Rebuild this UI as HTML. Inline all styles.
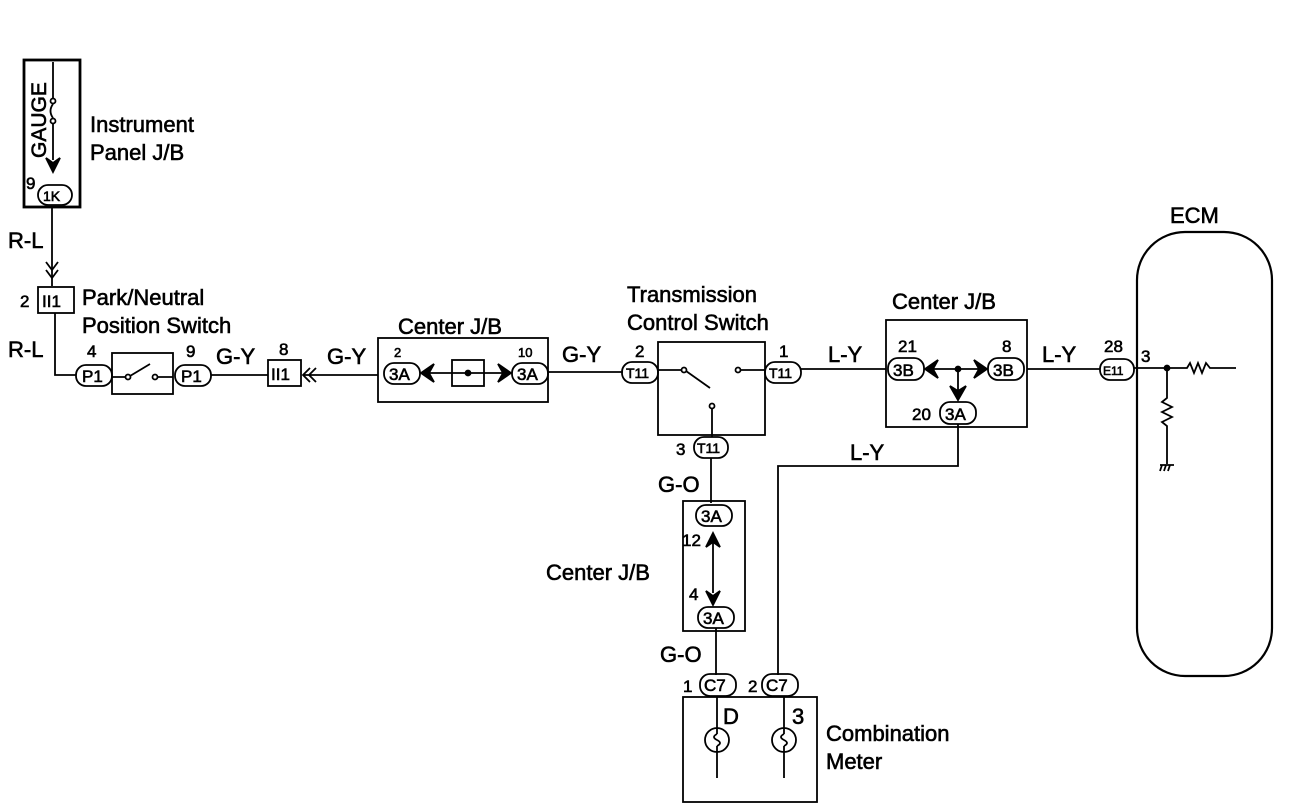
<!DOCTYPE html>
<html><head><meta charset="utf-8"><style>
html,body{margin:0;padding:0;background:#fff;}
svg{display:block;}
text{font-family:"Liberation Sans",sans-serif;fill:#000;stroke:#000;stroke-width:0.6;}
.l{font-size:22px;}
.s{font-size:17px;}
.o{font-size:14px;}
</style></head><body>
<svg width="1296" height="810" viewBox="0 0 1296 810" xmlns="http://www.w3.org/2000/svg" fill="none" stroke="#000" stroke-width="1.8">
<rect x="24" y="60" width="56" height="147" stroke-width="2.8"/>
<text x="46" y="158" class="l" transform="rotate(-90 46 158)" style="font-size:21px">GAUGE</text>
<path d="M53 62 V98 M53 104 Q48 111 53 118 M53 124 V160"/>
<circle cx="53" cy="101" r="2.5"/><circle cx="53" cy="121" r="2.5"/>
<path d="M46 158 L53 172 L60 158 L53 163 Z" fill="#000"/>
<rect x="38" y="185" width="34" height="20" rx="10"/>
<text x="43" y="201" class="o">1K</text>
<text x="26" y="189" class="s">9</text>
<text x="90" y="132" class="l">Instrument</text>
<text x="90" y="160" class="l">Panel J/B</text>
<path d="M52 207 V286"/>
<text x="8" y="248" class="l">R-L</text>
<path d="M46 262 L52 270 L58 262 M46 270 L52 278 L58 270"/>
<rect x="38" y="287" width="36" height="26"/>
<text x="42" y="307" class="s">II1</text>
<text x="20" y="307" class="s">2</text>
<text x="82" y="305" class="l">Park/Neutral</text>
<text x="82" y="333" class="l">Position Switch</text>
<path d="M55 313 V375 H76"/>
<text x="8" y="357" class="l">R-L</text>
<rect x="76" y="365" width="36" height="21" rx="10"/>
<text x="82" y="382" class="s">P1</text>
<text x="87" y="357" class="s">4</text>
<rect x="112" y="353" width="61" height="41"/>
<circle cx="128" cy="377" r="2.5"/><circle cx="155" cy="377" r="2.5"/>
<path d="M112 377 H125 M130 376 L150 364 M158 377 H173"/>
<rect x="175" y="365" width="36" height="21" rx="10"/>
<text x="181" y="382" class="s">P1</text>
<text x="186" y="357" class="s">9</text>
<path d="M211 375 H268"/>
<text x="216" y="364" class="l">G-Y</text>
<rect x="268" y="360" width="33" height="26"/>
<text x="271" y="380" class="s">II1</text>
<text x="279" y="355" class="s">8</text>
<path d="M310 368 L303 375 L310 382 M316 368 L309 375 L316 382 M303 375 H378"/>
<text x="327" y="364" class="l">G-Y</text>
<rect x="378" y="338" width="170" height="64"/>
<text x="398" y="334" class="l">Center J/B</text>
<rect x="384" y="363" width="36" height="21" rx="10"/>
<text x="389" y="380" class="s">3A</text>
<rect x="512" y="363" width="36" height="21" rx="10"/>
<text x="517" y="380" class="s">3A</text>
<text x="394" y="357" style="font-size:13px">2</text>
<text x="518" y="357" style="font-size:13px">10</text>
<path d="M421 373 L434 364 L429 373 L434 382 Z M511 373 L498 364 L503 373 L498 382 Z" fill="#000"/>
<rect x="452" y="360" width="32" height="26"/>
<path d="M428 373 H504"/><circle cx="468" cy="373" r="2.5" fill="#000"/>
<path d="M548 372 H623"/>
<text x="562" y="362" class="l">G-Y</text>
<text x="627" y="302" class="l">Transmission</text>
<text x="627" y="330" class="l">Control Switch</text>
<rect x="622" y="362" width="36" height="21" rx="10"/>
<text x="626" y="378" class="o">T11</text>
<text x="635" y="357" class="s">2</text>
<rect x="658" y="342" width="107" height="93"/>
<circle cx="684" cy="370" r="2.5"/><circle cx="738" cy="370" r="2.5"/><circle cx="712" cy="406" r="2.5"/>
<path d="M658 370 H681 M686 371 L710 388 M741 370 H765 M712 409 V437"/>
<rect x="765" y="362" width="36" height="21" rx="10"/>
<text x="769" y="378" class="o">T11</text>
<text x="779" y="357" class="s">1</text>
<rect x="694" y="437" width="34" height="21" rx="10"/>
<text x="697" y="453" class="o">T11</text>
<text x="676" y="455" class="s">3</text>
<path d="M801 369 H886"/>
<text x="828" y="362" class="l">L-Y</text>
<rect x="886" y="320" width="141" height="107"/>
<text x="892" y="309" class="l">Center J/B</text>
<rect x="888" y="358" width="36" height="22" rx="10"/>
<text x="893" y="376" class="s">3B</text>
<rect x="988" y="358" width="36" height="22" rx="10"/>
<text x="993" y="376" class="s">3B</text>
<text x="898" y="352" class="s">21</text>
<text x="1002" y="352" class="s">8</text>
<path d="M925 369 L938 360 L933 369 L938 378 Z M987 369 L974 360 L979 369 L974 378 Z M950 386 L958 400 L966 386 L958 391 Z" fill="#000"/>
<path d="M932 369 H980 M958 369 V392"/><circle cx="958" cy="369" r="2.5" fill="#000"/>
<rect x="940" y="402" width="36" height="22" rx="10"/>
<text x="945" y="420" class="s">3A</text>
<text x="912" y="420" class="s">20</text>
<path d="M1027 369 H1100"/>
<text x="1042" y="362" class="l">L-Y</text>
<rect x="1100" y="359" width="34" height="21" rx="10"/>
<text x="1103" y="375" style="font-size:12px">E11</text>
<text x="1104" y="352" class="s">28</text>
<text x="1141" y="362" class="s">3</text>
<rect x="1137" y="232" width="135" height="444" rx="48" stroke-width="2.2"/>
<text x="1170" y="223" class="l">ECM</text>
<path d="M1134 368 H1187 L1190 363 L1194 373 L1198 363 L1202 373 L1206 363 L1210 368 H1236"/>
<circle cx="1167" cy="368" r="2.5" fill="#000"/>
<path d="M1167 368 V398 L1162 402 L1172 407 L1162 412 L1172 417 L1162 422 L1167 426 V464 M1160 465 H1174 M1162 465 L1160 471 M1166 465 L1164 471 M1170 465 L1168 471"/>
<path d="M958 424 V466 H778 V675"/>
<text x="850" y="460" class="l">L-Y</text>
<path d="M711 458 V503"/>
<text x="658" y="492" class="l">G-O</text>
<rect x="683" y="501" width="62" height="130"/>
<rect x="696" y="505" width="36" height="21" rx="10"/>
<text x="701" y="522" class="s">3A</text>
<rect x="698" y="607" width="36" height="21" rx="10"/>
<text x="703" y="624" class="s">3A</text>
<path d="M713 533 V593"/>
<path d="M706 547 L713 533 L720 547 L713 542 Z M706 591 L713 605 L720 591 L713 596 Z" fill="#000"/>
<text x="682" y="546" class="s">12</text>
<text x="689" y="600" class="s">4</text>
<text x="546" y="580" class="l">Center J/B</text>
<path d="M716 628 V675"/>
<text x="660" y="662" class="l">G-O</text>
<rect x="700" y="674" width="36" height="22" rx="10"/>
<text x="704" y="691" class="s">C7</text>
<rect x="762" y="674" width="36" height="22" rx="10"/>
<text x="766" y="691" class="s">C7</text>
<text x="683" y="692" class="s">1</text>
<text x="748" y="692" class="s">2</text>
<rect x="683" y="697" width="134" height="105"/>
<text x="723" y="724" class="l">D</text>
<text x="792" y="724" class="l">3</text>
<circle cx="717" cy="740" r="12"/><circle cx="784" cy="740" r="12"/>
<path d="M717 697 V734 M717 746 V778 M784 697 V734 M784 746 V778"/>
<path d="M717 734 Q711 737 717 740 Q723 743 717 746 M784 734 Q778 737 784 740 Q790 743 784 746"/>
<text x="826" y="741" class="l">Combination</text>
<text x="826" y="769" class="l">Meter</text>
</svg>
</body></html>
